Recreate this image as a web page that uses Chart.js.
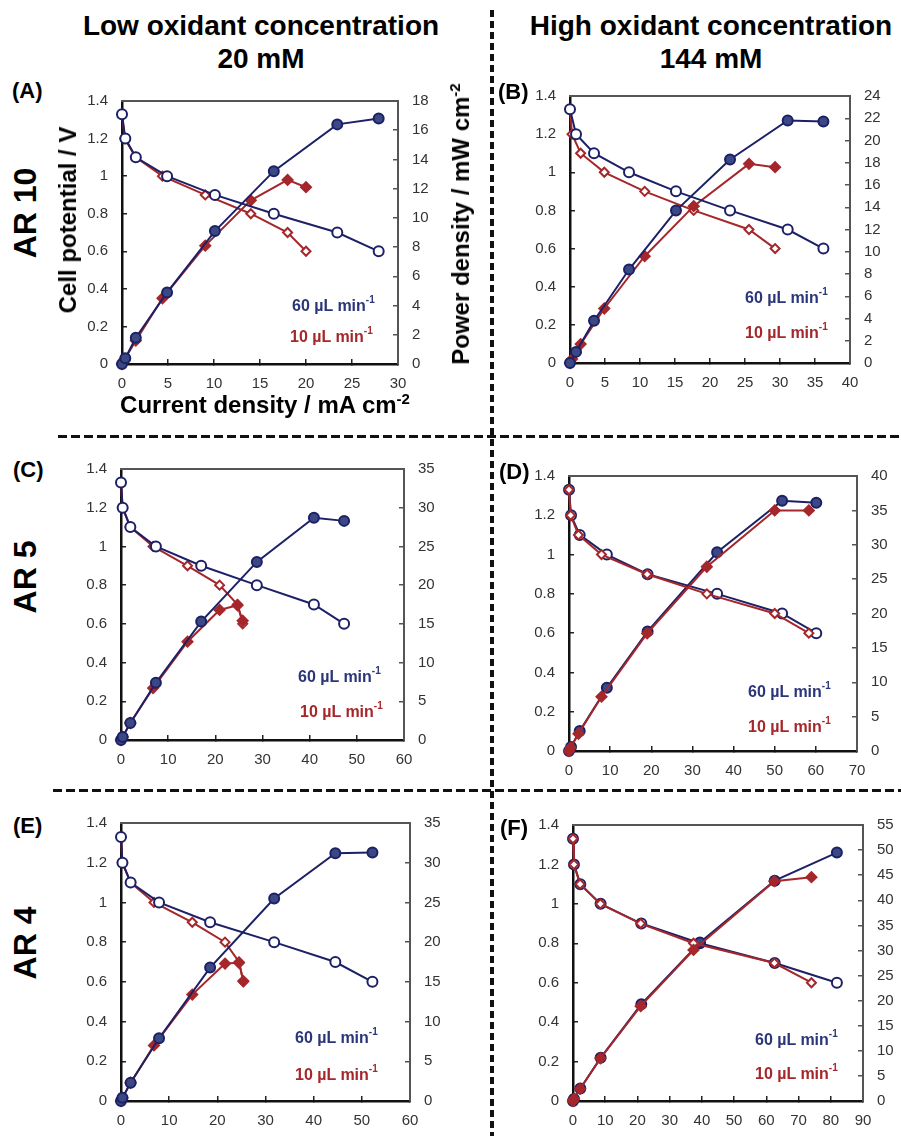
<!DOCTYPE html>
<html>
<head>
<meta charset="utf-8">
<script src="https://cdn.jsdelivr.net/npm/chart.js@4.4.1/dist/chart.umd.min.js"></script>
<style>
  html, body { margin: 0; padding: 0; background: #fff; }
  #page { position: relative; width: 901px; height: 1136px; overflow: hidden;
          font-family: "Liberation Sans", Arial, Helvetica, sans-serif; color: #000; }
  canvas { position: absolute; }
  .t { position: absolute; white-space: nowrap; line-height: 1; font-weight: bold; z-index: 2; }
  .rot { transform: translate(-50%, -50%) rotate(-90deg); }
  .mid { transform: translate(-50%, -50%); }
  .lbl { transform: translateY(-50%); }
  .head { position: absolute; width: 440px; text-align: center; font-weight: bold;
          font-size: 28px; line-height: 33px; top: 9px; }
  .leg { font-size: 16px; }
  .leg sup { font-size: 10px; vertical-align: 8px; }
  .blue { color: #2b367a; }
  .red { color: #a5272b; }
  .vdash { position: absolute; left: 490px; top: 10px; width: 4px; height: 1126px;
           background: repeating-linear-gradient(to bottom, #111 0 7px, transparent 7px 11px); }
  .hdash { position: absolute; right: 0; height: 3px;
           background: repeating-linear-gradient(to right, #111 0 9px, transparent 9px 13px); }
</style>
</head>
<body>
<div id="page">
  <div class="head" style="left:41px">Low oxidant concentration<br>20 mM</div>
  <div class="head" style="left:491px">High oxidant concentration<br>144 mM</div>

  <div class="vdash"></div>
  <div class="hdash" style="top:435px; left:58px"></div>
  <div class="hdash" style="top:789px; left:53px"></div>

  <div class="t rot" style="left:25px; top:213px; font-size:32px">AR 10</div>
  <div class="t rot" style="left:25px; top:577px; font-size:32px">AR 5</div>
  <div class="t rot" style="left:25px; top:943px; font-size:32px">AR 4</div>

  <div class="t lbl" style="left:12px; top:91px; font-size:22px">(A)</div>
  <div class="t lbl" style="left:498px; top:92px; font-size:22px">(B)</div>
  <div class="t lbl" style="left:13px; top:470px; font-size:22px">(C)</div>
  <div class="t lbl" style="left:499px; top:472px; font-size:22px">(D)</div>
  <div class="t lbl" style="left:13px; top:826px; font-size:22px">(E)</div>
  <div class="t lbl" style="left:500px; top:828px; font-size:22px">(F)</div>

  <div class="t rot" style="left:68px; top:220px; font-size:24px">Cell potential / V</div>
  <div class="t mid" style="left:265px; top:404px; font-size:24px">Current density / mA cm<sup style="font-size:15px">-2</sup></div>
  <div class="t rot" style="left:460px; top:224px; font-size:24px">Power density / mW cm<sup style="font-size:15px">-2</sup></div>

  <div class="t lbl leg blue" style="left:292px; top:304px">60 µL min<sup>-1</sup></div>
  <div class="t lbl leg red"  style="left:290px; top:335px">10 µL min<sup>-1</sup></div>
  <div class="t lbl leg blue" style="left:745px; top:296px">60 µL min<sup>-1</sup></div>
  <div class="t lbl leg red"  style="left:745px; top:331px">10 µL min<sup>-1</sup></div>
  <div class="t lbl leg blue" style="left:298px; top:675px">60 µL min<sup>-1</sup></div>
  <div class="t lbl leg red"  style="left:300px; top:710px">10 µL min<sup>-1</sup></div>
  <div class="t lbl leg blue" style="left:748px; top:690px">60 µL min<sup>-1</sup></div>
  <div class="t lbl leg red"  style="left:748px; top:725px">10 µL min<sup>-1</sup></div>
  <div class="t lbl leg blue" style="left:295px; top:1036px">60 µL min<sup>-1</sup></div>
  <div class="t lbl leg red"  style="left:295px; top:1073px">10 µL min<sup>-1</sup></div>
  <div class="t lbl leg blue" style="left:755px; top:1038px">60 µL min<sup>-1</sup></div>
  <div class="t lbl leg red"  style="left:755px; top:1072px">10 µL min<sup>-1</sup></div>

  <canvas id="cA"></canvas>
  <canvas id="cB"></canvas>
  <canvas id="cC"></canvas>
  <canvas id="cD"></canvas>
  <canvas id="cE"></canvas>
  <canvas id="cF"></canvas>
</div>

<script>
// --- datos: densidad de corriente (mA cm-2), potencial (V), potencia (mW cm-2) ---
// (A) AR 10, 20 mM
const aI60 = [0, 0.36, 1.5, 4.9, 10.1, 16.5, 23.4, 27.9];
const aV60 = [1.33, 1.2, 1.1, 1.0, 0.9, 0.8, 0.7, 0.6];
const aP60 = [0, 0.4, 1.8, 4.9, 9.1, 13.2, 16.4, 16.8];
const aI10 = [0, 0.3, 1.5, 4.4, 9.05, 14.0, 18.0, 20.0];
const aV10 = [1.33, 1.2, 1.1, 1.0, 0.9, 0.8, 0.7, 0.6];
const aP10 = [0, 0.35, 1.6, 4.5, 8.1, 11.2, 12.6, 12.1];

// (B) AR 10, 144 mM
const bI60 = [0, 0.86, 3.43, 8.43, 15.14, 22.86, 31.1, 36.2];
const bV60 = [1.33, 1.2, 1.1, 1.0, 0.9, 0.8, 0.7, 0.6];
const bP60 = [0, 1.0, 3.8, 8.4, 13.7, 18.3, 21.8, 21.7];
const bI10 = [0, 0.29, 1.52, 4.9, 10.67, 17.67, 25.57, 29.3];
const bV10 = [1.33, 1.2, 1.1, 1.0, 0.9, 0.8, 0.7, 0.6];
const bP10 = [0, 0.35, 1.7, 4.9, 9.6, 14.1, 17.9, 17.6];

// (C) AR 5, 20 mM
const cI60 = [0, 0.35, 1.98, 7.4, 17.0, 28.8, 40.9, 47.3];
const cV60 = [1.33, 1.2, 1.1, 1.0, 0.9, 0.8, 0.7, 0.6];
const cP60 = [0, 0.4, 2.2, 7.4, 15.3, 23.0, 28.7, 28.3];
const cI10 = [0, 0.35, 1.98, 6.8, 14.1, 20.9, 24.7, 25.8];
const cV10 = [1.33, 1.2, 1.1, 1.0, 0.9, 0.8, 0.7, 0.6];
const cP10 = [0, 0.4, 2.2, 6.7, 12.7, 16.8, 17.4, 15.4];

// (D) AR 5, 144 mM
const dI60 = [0, 0.5, 2.6, 9.2, 19.1, 36.0, 51.8, 60.1];
const dV60 = [1.33, 1.2, 1.1, 1.0, 0.9, 0.8, 0.7, 0.6];
const dP60 = [0, 0.6, 2.9, 9.2, 17.4, 28.9, 36.4, 36.1];
const dI10 = [0, 0.4, 2.3, 7.9, 19.0, 33.5, 50.0, 58.3];
const dV10 = [1.33, 1.2, 1.1, 1.0, 0.9, 0.8, 0.7, 0.6];
const dP10 = [0, 0.5, 2.5, 7.9, 17.1, 26.8, 35.0, 35.0];

// (E) AR 4, 20 mM
const eI60 = [0, 0.3, 2.0, 7.9, 18.5, 31.8, 44.5, 52.2];
const eV60 = [1.33, 1.2, 1.1, 1.0, 0.9, 0.8, 0.7, 0.6];
const eP60 = [0, 0.4, 2.3, 7.9, 16.8, 25.5, 31.2, 31.3];
const eI10 = [0, 0.3, 2.0, 6.85, 14.8, 21.6, 24.5, 25.4];
const eV10 = [1.33, 1.2, 1.1, 1.0, 0.9, 0.8, 0.7, 0.6];
const eP10 = [0, 0.4, 2.3, 7.0, 13.4, 17.3, 17.4, 15.1];

// (F) AR 4, 144 mM
const fI60 = [0, 0.3, 2.27, 8.57, 21.2, 39.4, 62.6, 81.9];
const fV60 = [1.33, 1.2, 1.1, 1.0, 0.9, 0.8, 0.7, 0.6];
const fP60 = [0, 0.4, 2.5, 8.6, 19.3, 31.6, 43.9, 49.5];
const fI10 = [0, 0.3, 2.2, 8.5, 21.0, 37.4, 62.5, 74.0];
const fV10 = [1.33, 1.2, 1.1, 1.0, 0.9, 0.8, 0.7, 0.6];
const fP10 = [0, 0.4, 2.4, 8.5, 18.9, 30.1, 43.8, 44.6];

// rangos de ejes: [max x, paso x, max potencia, paso potencia]
const aAxes = [30, 5, 18, 2];
const bAxes = [40, 5, 24, 2];
const cAxes = [60, 10, 35, 5];
const dAxes = [70, 10, 40, 5];
const eAxes = [60, 10, 35, 5];
const fAxes = [90, 10, 55, 5];
const vAxis = [1.4, 0.2];

// --- estilo ---
const FONT = '"Liberation Sans", Arial, Helvetica, sans-serif';
const NAVY = '#1c2066';
const NAVY_FILL = '#3a4883';
const RED = '#a5272b';
const M = { l: 60, r: 60, t: 15, b: 35 };

function pts(xs, ys) {
  return xs.map((x, i) => ({ x: x, y: ys[i] }));
}

// etiquetas sin ceros sobrantes: 1, 0.8, 0.6 ...
function limpio(v) {
  return String(Math.round(v * 10) / 10);
}

function serie(xs, ys, axis, color, fill, style, radius, order) {
  return {
    data: pts(xs, ys),
    yAxisID: axis,
    borderColor: color,
    backgroundColor: color,
    borderWidth: 2,
    pointStyle: style,
    pointRadius: radius,
    pointHoverRadius: radius,
    pointBackgroundColor: fill,
    pointBorderColor: color,
    pointBorderWidth: 2,
    tension: 0,
    clip: false,
    order: order
  };
}

// marco superior del área del gráfico
const marco = {
  id: 'marco',
  beforeDatasetsDraw(chart) {
    const a = chart.chartArea, c = chart.ctx;
    c.save();
    c.strokeStyle = '#555';
    c.lineWidth = 2;
    c.beginPath();
    c.moveTo(a.left - 1, a.top);
    c.lineTo(a.right + 1, a.top);
    c.stroke();
    c.restore();
  }
};

function ejeY(pos, max, step) {
  const izq = pos === 'left';
  return {
    type: 'linear',
    position: pos,
    min: 0,
    max: max,
    ticks: { stepSize: step, padding: 19, color: '#333', font: { family: FONT, size: 15 }, callback: limpio },
    grid: { drawOnChartArea: false, drawTicks: true, tickLength: -5, color: izq ? '#222' : '#555', lineWidth: 1.5 },
    border: { display: true, color: izq ? '#111' : '#555', width: izq ? 2.5 : 2 },
    afterFit(s) { s.width = izq ? M.l : M.r; }
  };
}

function panel(id, box, ejes, I60, V60, P60, I10, V10, P10, rojoArriba) {
  const cv = document.getElementById(id);
  cv.width = box.w + M.l + M.r;
  cv.height = box.h + M.t + M.b;
  cv.style.left = (box.l - M.l) + 'px';
  cv.style.top = (box.t - M.t) + 'px';

  const oA = rojoArriba ? 2 : 1;
  const oR = rojoArriba ? 1 : 2;

  new Chart(cv, {
    type: 'line',
    data: {
      datasets: [
        serie(I60, P60, 'y2', NAVY, NAVY_FILL, 'circle', 5, oA),
        serie(I60, V60, 'y', NAVY, '#ffffff', 'circle', 5, oA),
        serie(I10, P10, 'y2', RED, RED, 'rectRot', 5, oR),
        serie(I10, V10, 'y', RED, '#ffffff', 'rectRot', 4.5, oR)
      ]
    },
    options: {
      responsive: false,
      animation: false,
      devicePixelRatio: 1,
      layout: { padding: { top: M.t, left: 0, right: 0, bottom: 0 } },
      plugins: { legend: { display: false }, tooltip: { enabled: false } },
      scales: {
        x: {
          type: 'linear',
          position: 'bottom',
          min: 0,
          max: ejes[0],
          ticks: { stepSize: ejes[1], padding: 16, color: '#333', font: { family: FONT, size: 15 } },
          grid: { drawOnChartArea: false, drawTicks: true, tickLength: -5, color: '#222', lineWidth: 1.5 },
          border: { display: true, color: '#111', width: 2.5 },
          afterFit(s) { s.height = M.b; }
        },
        y: ejeY('left', vAxis[0], vAxis[1]),
        y2: ejeY('right', ejes[2], ejes[3])
      }
    },
    plugins: [marco]
  });
}

panel('cA', { l: 122, t: 88, w: 276, h: 276 }, aAxes, aI60, aV60, aP60, aI10, aV10, aP10, false);
panel('cB', { l: 570, t: 83, w: 280, h: 280 }, bAxes, bI60, bV60, bP60, bI10, bV10, bP10, false);
panel('cC', { l: 121, t: 456, w: 283, h: 284 }, cAxes, cI60, cV60, cP60, cI10, cV10, cP10, false);
panel('cD', { l: 569, t: 463, w: 288, h: 288 }, dAxes, dI60, dV60, dP60, dI10, dV10, dP10, true);
panel('cE', { l: 121, t: 810, w: 289, h: 291 }, eAxes, eI60, eV60, eP60, eI10, eV10, eP10, false);
panel('cF', { l: 573, t: 812, w: 290, h: 289 }, fAxes, fI60, fV60, fP60, fI10, fV10, fP10, true);
</script>
</body>
</html>
